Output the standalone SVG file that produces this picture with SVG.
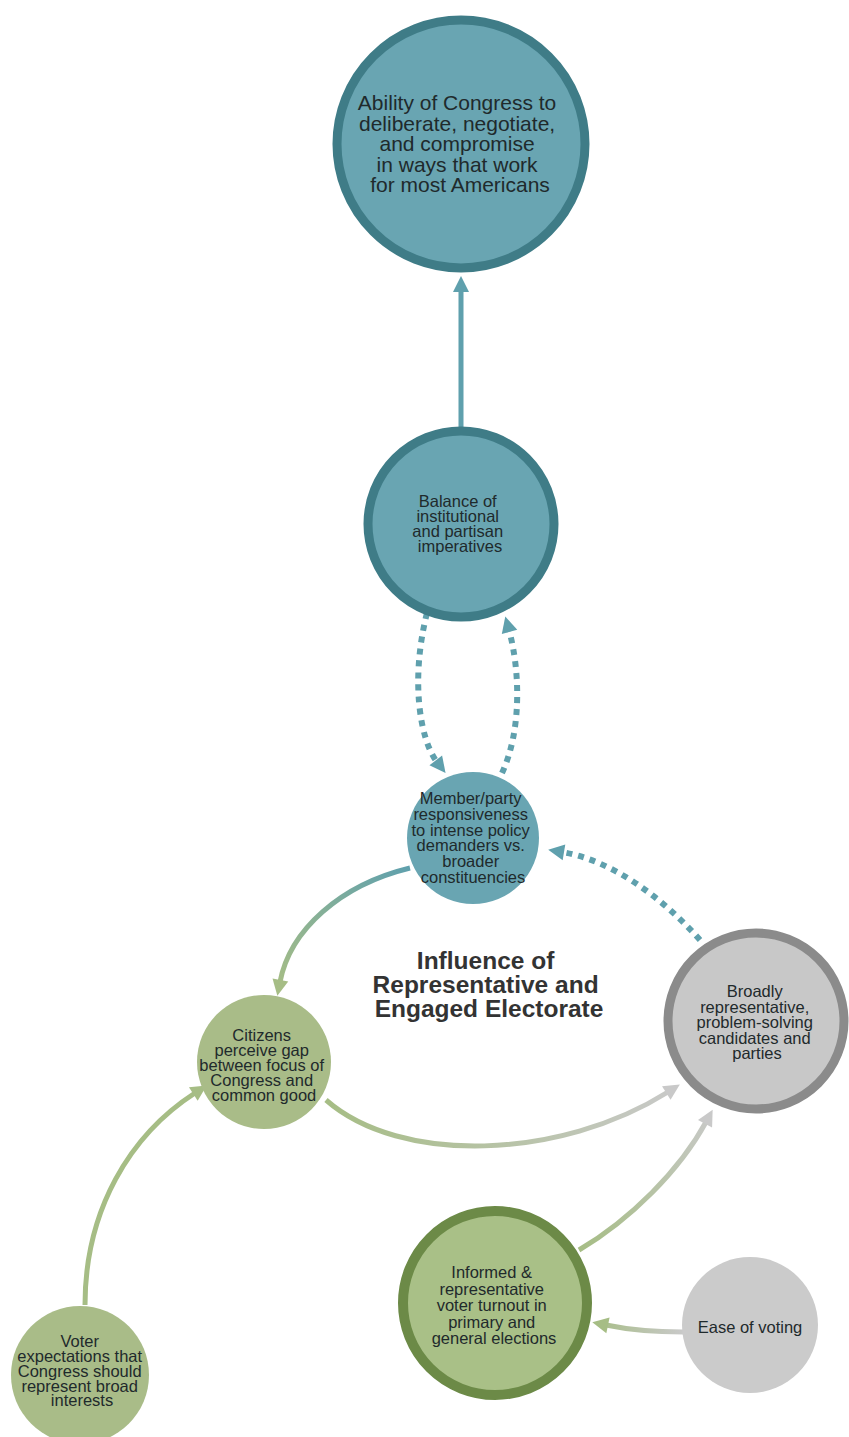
<svg xmlns="http://www.w3.org/2000/svg" width="849" height="1437" viewBox="0 0 849 1437">
  <style>
    .lbl { font-family: "Liberation Sans", Arial, sans-serif; font-size: 16.5px; fill: #1f2a2c; text-anchor: middle; }
    .big { font-size: 21px; }
    .title { font-family: "Liberation Sans", Arial, sans-serif; font-size: 24.5px; font-weight: bold; fill: #333333; text-anchor: middle; }
    .teal { fill: #69a5b2; }
    .teal-ring { fill: #69a5b2; stroke: #3f7c87; stroke-width: 9; }
    .green { fill: #a9bc88; }
    .green-ring { fill: #a9c087; stroke: #6c8a47; stroke-width: 10; }
    .gray { fill: #cbcbcb; }
    .gray-ring { fill: #c8c8c8; stroke: #8b8b8b; stroke-width: 9; }
    .link { fill: none; stroke-width: 5; }
    .dash { fill: none; stroke: #5fa0ad; stroke-width: 6; stroke-dasharray: 6 6; }
  </style>
  <defs>
    <marker id="ahTeal" markerUnits="userSpaceOnUse" markerWidth="20" markerHeight="20" viewBox="0 -10 18 20" refX="2" refY="0" orient="auto">
      <path d="M0,-8 L16,0 L0,8 z" fill="#5fa0ad"/>
    </marker>
    <marker id="ahGreen" markerUnits="userSpaceOnUse" markerWidth="20" markerHeight="20" viewBox="0 -10 18 20" refX="2" refY="0" orient="auto">
      <path d="M0,-8 L16,0 L0,8 z" fill="#a6bd85"/>
    </marker>
    <marker id="ahGray" markerUnits="userSpaceOnUse" markerWidth="20" markerHeight="20" viewBox="0 -10 18 20" refX="2" refY="0" orient="auto">
      <path d="M0,-8 L16,0 L0,8 z" fill="#c9c9c9"/>
    </marker>
    <linearGradient id="gTealGreen" gradientUnits="userSpaceOnUse" x1="410" y1="868" x2="280" y2="990">
      <stop offset="0" stop-color="#5fa0ad"/>
      <stop offset="1" stop-color="#a6bd85"/>
    </linearGradient>
    <linearGradient id="gGreenGray" gradientUnits="userSpaceOnUse" x1="326" y1="1100" x2="680" y2="1085">
      <stop offset="0" stop-color="#a6bd85"/>
      <stop offset="1" stop-color="#c9c9c9"/>
    </linearGradient>
    <linearGradient id="gGreenGray2" gradientUnits="userSpaceOnUse" x1="579" y1="1250" x2="712" y2="1110">
      <stop offset="0" stop-color="#a6bd85"/>
      <stop offset="1" stop-color="#c9c9c9"/>
    </linearGradient>
    <linearGradient id="gGrayGreen" gradientUnits="userSpaceOnUse" x1="683" y1="1332" x2="592" y2="1322">
      <stop offset="0" stop-color="#c9c9c9"/>
      <stop offset="1" stop-color="#a6bd85"/>
    </linearGradient>
  </defs>

  <!-- connectors -->
  <g id="connectors">
    <path class="link" stroke="#5fa0ad" d="M461,428 L461,290" marker-end="url(#ahTeal)"/>
    <path class="dash" d="M427,613 C410,680 420,740 437,762" marker-end="url(#ahTeal)"/>
    <path class="dash" d="M502,773 C522,730 520,670 509,630" marker-end="url(#ahTeal)"/>
    <path class="dash" d="M700,940 C660,895 610,860 562,852" marker-end="url(#ahTeal)"/>
    <path class="link" stroke="url(#gTealGreen)" d="M410,868 C340,885 290,930 280,982" marker-end="url(#ahGreen)"/>
    <path class="link" stroke="url(#gGreenGray)" d="M326,1100 C400,1165 560,1160 668,1092" marker-end="url(#ahGray)"/>
    <path class="link" stroke="url(#gGreenGray2)" d="M579,1250 C630,1220 680,1170 706,1122" marker-end="url(#ahGray)"/>
    <path class="link" stroke="url(#gGrayGreen)" d="M683,1332 C650,1332 630,1330 606,1325" marker-end="url(#ahGreen)"/>
    <path class="link" stroke="#a6bd85" d="M85,1305 C85,1210 130,1135 195,1093" marker-end="url(#ahGreen)"/>
  </g>

  <g id="node-congress">
    <circle class="teal-ring" cx="461" cy="144" r="124"/>
    <text class="lbl big">
      <tspan x="460" y="110">Ability of Congress to</tspan>
      <tspan x="460" y="130.5">deliberate, negotiate,</tspan>
      <tspan x="460" y="151">and compromise</tspan>
      <tspan x="460" y="171.5">in ways that work</tspan>
      <tspan x="460" y="192">for most Americans</tspan>
    </text>
  </g>

  <g id="node-balance">
    <circle class="teal-ring" cx="461" cy="524" r="93"/>
    <text class="lbl">
      <tspan x="460" y="507">Balance of</tspan>
      <tspan x="460" y="522">institutional</tspan>
      <tspan x="460" y="537">and partisan</tspan>
      <tspan x="460" y="552">imperatives</tspan>
    </text>
  </g>

  <g id="node-member">
    <circle class="teal" cx="473" cy="838" r="66"/>
    <text class="lbl">
      <tspan x="473" y="804">Member/party</tspan>
      <tspan x="473" y="820">responsiveness</tspan>
      <tspan x="473" y="835.5">to intense policy</tspan>
      <tspan x="473" y="851">demanders vs.</tspan>
      <tspan x="473" y="867">broader</tspan>
      <tspan x="473" y="883">constituencies</tspan>
    </text>
  </g>

  <g id="label-influence">
    <text class="title">
      <tspan x="489" y="969">Influence of</tspan>
      <tspan x="489" y="993">Representative and</tspan>
      <tspan x="489" y="1017">Engaged Electorate</tspan>
    </text>
  </g>

  <g id="node-citizens">
    <circle class="green" cx="264" cy="1062" r="67"/>
    <text class="lbl">
      <tspan x="264" y="1041">Citizens</tspan>
      <tspan x="264" y="1056">perceive gap</tspan>
      <tspan x="264" y="1071">between focus of</tspan>
      <tspan x="264" y="1086">Congress and</tspan>
      <tspan x="264" y="1101">common good</tspan>
    </text>
  </g>

  <g id="node-candidates">
    <circle class="gray-ring" cx="756" cy="1021" r="88"/>
    <text class="lbl">
      <tspan x="757" y="997">Broadly</tspan>
      <tspan x="757" y="1012.5">representative,</tspan>
      <tspan x="757" y="1028">problem-solving</tspan>
      <tspan x="757" y="1043.5">candidates and</tspan>
      <tspan x="757" y="1059">parties</tspan>
    </text>
  </g>

  <g id="node-turnout">
    <circle class="green-ring" cx="495" cy="1303" r="92"/>
    <text class="lbl">
      <tspan x="494" y="1278">Informed &amp;</tspan>
      <tspan x="494" y="1294.5">representative</tspan>
      <tspan x="494" y="1311">voter turnout in</tspan>
      <tspan x="494" y="1327.5">primary and</tspan>
      <tspan x="494" y="1344">general elections</tspan>
    </text>
  </g>

  <g id="node-ease">
    <circle class="gray" cx="750" cy="1325" r="68"/>
    <text class="lbl" x="750" y="1333">Ease of voting</text>
  </g>

  <g id="node-expectations">
    <circle class="green" cx="80" cy="1375" r="69"/>
    <text class="lbl">
      <tspan x="82" y="1347">Voter</tspan>
      <tspan x="82" y="1362">expectations that</tspan>
      <tspan x="82" y="1377">Congress should</tspan>
      <tspan x="82" y="1392">represent broad</tspan>
      <tspan x="82" y="1406">interests</tspan>
    </text>
  </g>
</svg>
